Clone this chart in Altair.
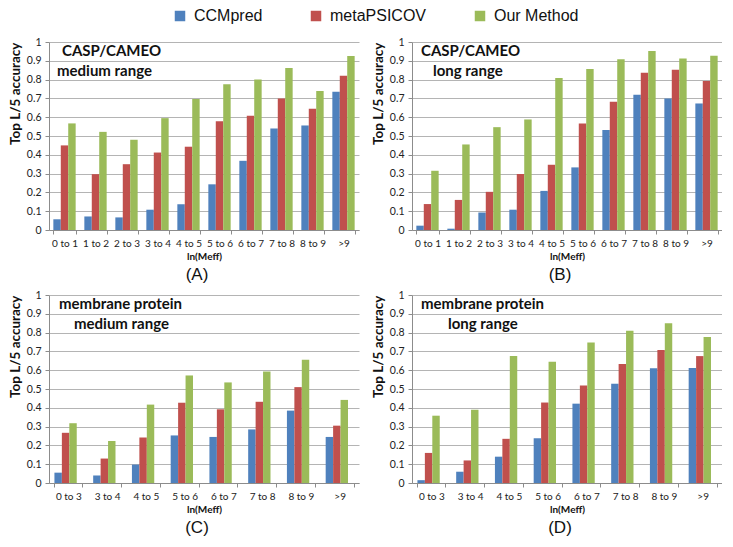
import altair as alt
import pandas as pd

series = ["CCMpred", "metaPSICOV", "Our Method"]
colors = ["#4F81BD", "#C0504D", "#9BBB59"]

cats_casp = ["0 to 1", "1 to 2", "2 to 3", "3 to 4", "4 to 5", "5 to 6", "6 to 7", "7 to 8", "8 to 9", ">9"]
cats_mem = ["0 to 3", "3 to 4", "4 to 5", "5 to 6", "6 to 7", "7 to 8", "8 to 9", ">9"]

# (A) CASP/CAMEO medium range
a_ccm = [0.057, 0.072, 0.067, 0.108, 0.137, 0.243, 0.368, 0.540, 0.556, 0.735]
a_meta = [0.450, 0.297, 0.350, 0.412, 0.443, 0.578, 0.608, 0.700, 0.645, 0.820]
a_our = [0.567, 0.522, 0.480, 0.595, 0.697, 0.775, 0.800, 0.862, 0.740, 0.925]

# (B) CASP/CAMEO long range
b_ccm = [0.023, 0.007, 0.093, 0.108, 0.208, 0.333, 0.532, 0.720, 0.700, 0.673]
b_meta = [0.138, 0.160, 0.203, 0.298, 0.347, 0.567, 0.682, 0.837, 0.853, 0.793]
b_our = [0.315, 0.455, 0.547, 0.588, 0.808, 0.857, 0.908, 0.952, 0.912, 0.927]

# (C) membrane protein medium range
c_ccm = [0.055, 0.040, 0.098, 0.253, 0.245, 0.285, 0.385, 0.245]
c_meta = [0.267, 0.130, 0.242, 0.427, 0.392, 0.432, 0.510, 0.305]
c_our = [0.318, 0.223, 0.417, 0.572, 0.535, 0.593, 0.655, 0.442]

# (D) membrane protein long range
d_ccm = [0.015, 0.060, 0.140, 0.238, 0.422, 0.528, 0.610, 0.612]
d_meta = [0.160, 0.120, 0.235, 0.428, 0.518, 0.633, 0.708, 0.675]
d_our = [0.358, 0.390, 0.675, 0.645, 0.748, 0.810, 0.850, 0.777]

y_ticks = [0, 0.1, 0.2, 0.3, 0.4, 0.5, 0.6, 0.7, 0.8, 0.9, 1.0]

W, H = 310, 188

color_enc = alt.Color(
    "method:N",
    sort=series,
    scale=alt.Scale(domain=series, range=colors),
    legend=alt.Legend(
        title=None, orient="none", legendX=123, legendY=-34, direction="horizontal",
        symbolType="square", symbolSize=110, symbolStrokeWidth=0,
        labelFont="Liberation Sans", labelFontSize=16, labelColor="#111",
        columnPadding=45, labelOffset=6,
    ),
)


def panel(cats, ccm, meta, our, line1, x1, line2, x2, label, pad_inner):
    rows = []
    for i, c in enumerate(cats):
        rows.append({"bin": c, "method": series[0], "value": ccm[i]})
        rows.append({"bin": c, "method": series[1], "value": meta[i]})
        rows.append({"bin": c, "method": series[2], "value": our[i]})
    df = pd.DataFrame(rows)
    bars = alt.Chart(df).mark_bar().encode(
        x=alt.X(
            "bin:N", sort=cats,
            scale=alt.Scale(paddingInner=pad_inner, paddingOuter=pad_inner / 2),
            axis=alt.Axis(
                title="ln(Meff)", titleFont="Lato", titleFontSize=10, titleFontWeight="bold",
                titlePadding=3, labelAngle=0, labelFont="Lato", labelFontSize=10,
                labelPadding=4, tickSize=4, tickBand="extent", grid=False, labelOverlap=False,
            ),
        ),
        xOffset=alt.XOffset("method:N", sort=series),
        y=alt.Y(
            "value:Q", scale=alt.Scale(domain=[0, 1], nice=False),
            axis=alt.Axis(
                title="Top L/5 accuracy", titleFont="Lato", titleFontSize=13.5,
                titleFontWeight="bold", titlePadding=4, titleAnchor="end",
                values=y_ticks, format="~g",
                labelFont="Lato", labelFontSize=10.5, labelPadding=4, tickSize=4,
            ),
        ),
        color=color_enc,
    )
    one = pd.DataFrame({"a": [0]})
    t1 = alt.Chart(one).mark_text(
        align="left", baseline="middle", font="Lato", fontWeight="bold", fontSize=15, color="#111"
    ).encode(x=alt.value(x1), y=alt.value(9), text=alt.value(line1))
    t2 = alt.Chart(one).mark_text(
        align="left", baseline="middle", font="Lato", fontWeight="bold", fontSize=15, color="#111"
    ).encode(x=alt.value(x2), y=alt.value(29), text=alt.value(line2))
    return alt.layer(bars, t1, t2).properties(
        width=W, height=H,
        title=alt.TitleParams(
            label, orient="bottom", font="Liberation Sans", fontSize=17,
            fontWeight="normal", offset=6, dx=-7, color="#111",
        ),
    )


pA = panel(cats_casp, a_ccm, a_meta, a_our, "CASP/CAMEO", 13, "medium range", 8, "(A)", 0.28)
pB = panel(cats_casp, b_ccm, b_meta, b_our, "CASP/CAMEO", 9, "long range", 21, "(B)", 0.28)
pC = panel(cats_mem, c_ccm, c_meta, c_our, "membrane protein", 10, "medium range", 25, "(C)", 0.28)
pD = panel(cats_mem, d_ccm, d_meta, d_our, "membrane protein", 9, "long range", 36, "(D)", 0.28)

chart = alt.vconcat(
    alt.hconcat(pA, pB, spacing=12),
    alt.hconcat(pC, pD, spacing=12),
    spacing=7,
).properties(
    padding={"left": 0, "top": 0, "right": 0, "bottom": 0},
    background="white",
).configure_view(stroke=None).configure_axis(
    gridColor="#b4b4b4", domainColor="#8c8c8c", tickColor="#8c8c8c",
    labelColor="#222", titleColor="#111",
).configure_concat(spacing=11)

chart.save("out.html", embed_options={"renderer": "svg", "actions": False})
